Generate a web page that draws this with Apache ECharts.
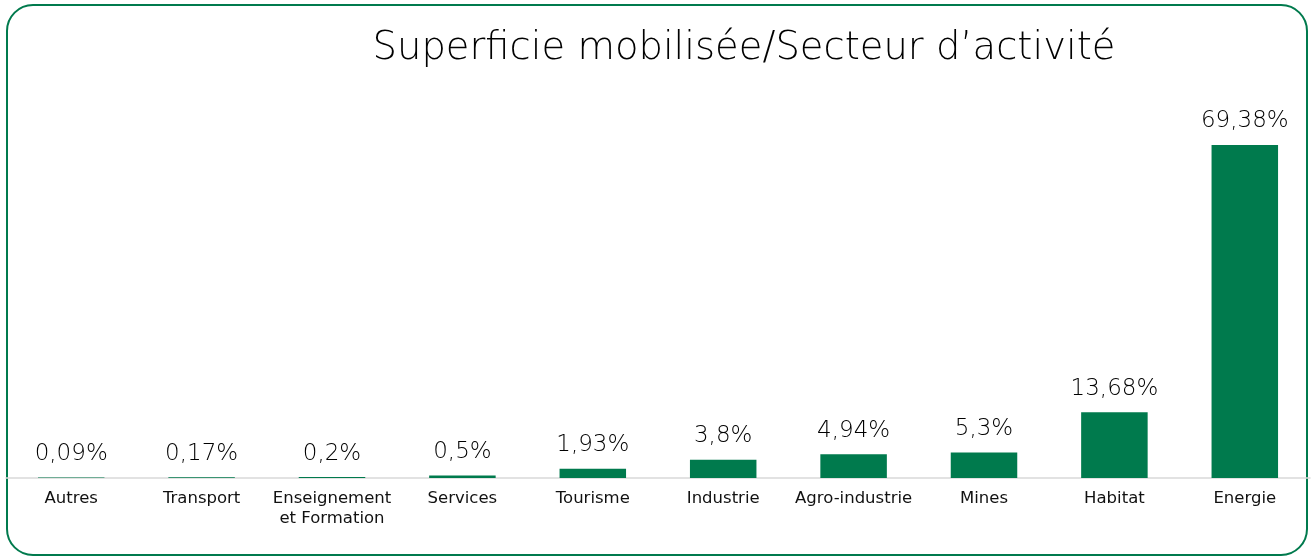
<!DOCTYPE html>
<html><head><meta charset="utf-8">
<script src="https://cdn.jsdelivr.net/npm/echarts@6/dist/echarts.min.js"></script>
<style>html,body{margin:0;padding:0;background:#fff}#c{width:1314px;height:560px}</style>
</head><body><div id="c"></div>
<script>
const categories = ['Autres','Transport','Enseignement\net Formation','Services','Tourisme','Industrie','Agro-industrie','Mines','Habitat','Energie'];
const values = [0.09,0.17,0.2,0.5,1.93,3.8,4.94,5.3,13.68,69.38];
const valueLabels = ['0,09%','0,17%','0,2%','0,5%','1,93%','3,8%','4,94%','5,3%','13,68%','69,38%'];
const titleText = 'Superficie mobilisée/Secteur d\u2019activité';

const chart = echarts.init(document.getElementById('c'));
chart.setOption({
  animation:false,
  title:{text:titleText,left:739,top:24,textAlign:'center',textStyle:{fontFamily:'DejaVu Sans',fontWeight:200,fontSize:38.5,color:'#000'}},
  graphic:[{type:'rect',shape:{x:7,y:5,width:1300,height:550,r:26},style:{fill:'none',stroke:'#007a4d',lineWidth:2},z:-1}],
  grid:{left:6,right:4,top:94,bottom:82},
  xAxis:{type:'category',data:categories,axisLine:{lineStyle:{color:'#d9d9d9',width:1.5}},axisTick:{show:false},
    axisLabel:{interval:0,color:'#111',fontFamily:'DejaVu Sans',fontSize:16.5,fontWeight:'normal',lineHeight:20,margin:11}},
  yAxis:{type:'value',min:0,max:80,show:false,splitLine:{show:false}},
  series:[{type:'bar',data:values,barWidth:'51%',itemStyle:{color:'#007a4d'},
    label:{show:true,position:'top',distance:12,formatter:p=>valueLabels[p.dataIndex],color:'#000',fontFamily:'DejaVu Sans',fontWeight:200,fontSize:23}}]
});
</script></body></html>
